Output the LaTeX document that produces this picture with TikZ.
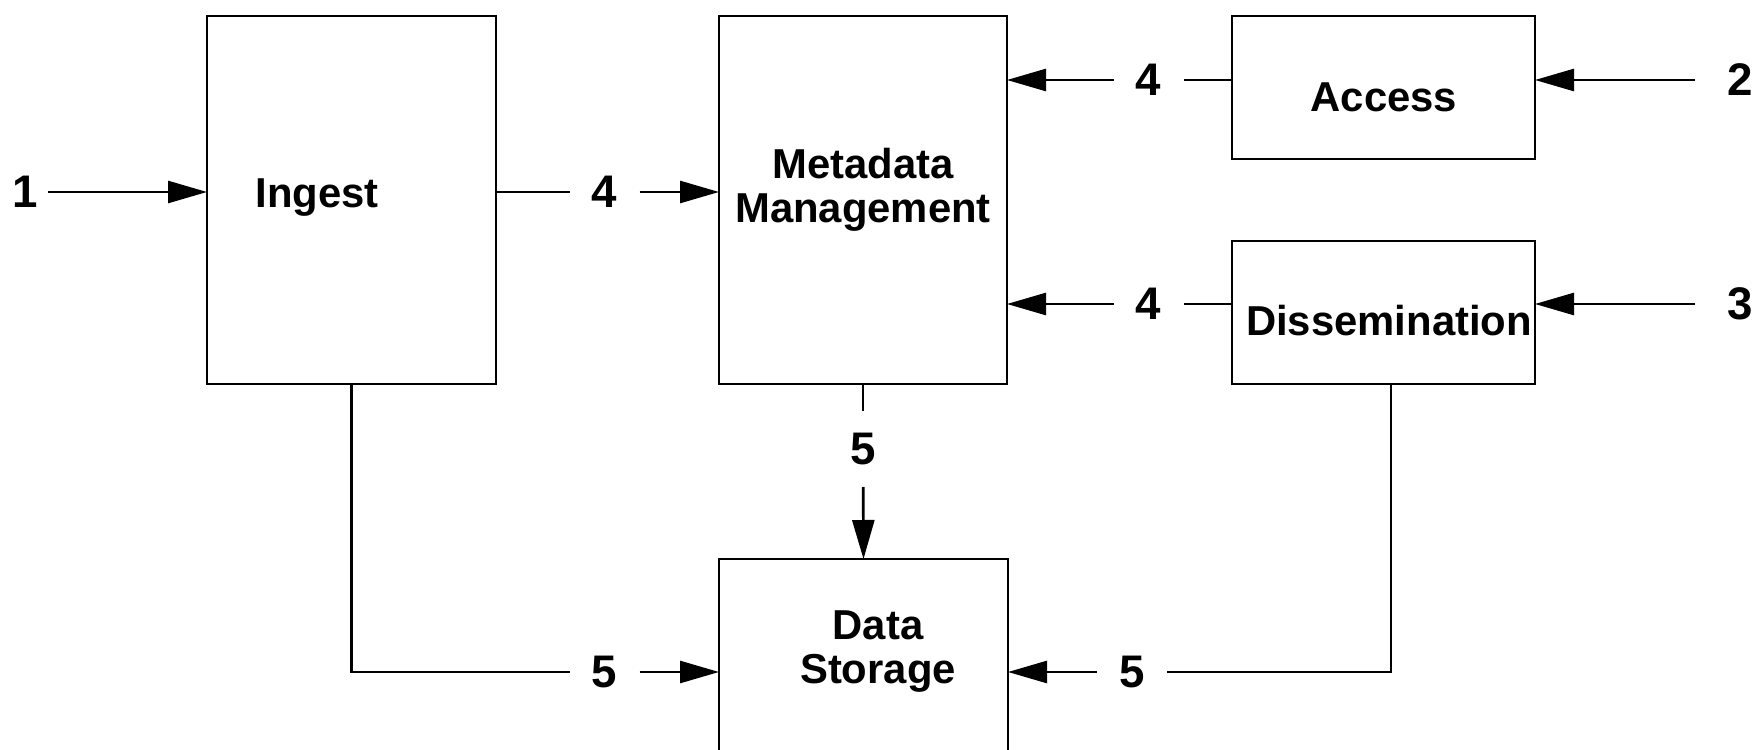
\documentclass[tikz,border=0pt]{standalone}
\usepackage{fontspec}
\setmainfont{Liberation Sans}
\usetikzlibrary{shapes,arrows.meta}

\newcommand\boxfont{\fontsize{11.9}{12.5}\selectfont\bfseries}
\newcommand\numfont{\fontsize{13}{15}\selectfont\bfseries}

\begin{document}
\begin{tikzpicture}[x=0.1mm,y=-0.1mm]

        % styles
        \tikzstyle{block} = [rectangle, draw=black, line width=0.75pt, inner sep=0pt, outer sep=0pt]
        \tikzstyle{label} = [font=\boxfont, align=center, inner sep=0pt, anchor=base]
        \tikzstyle{num} = [font=\numfont, inner sep=0pt, outer sep=0pt, minimum width=0.7cm, minimum height=0.7cm]
        \tikzstyle{line} = [line width=0.75pt]
        \tikzstyle{arrow} = [line width=0.75pt, -{Triangle[length=3.9mm, width=2.2mm]}]

        \path[use as bounding box, clip] (0,0) rectangle (1756,750);

        % boxes
        \node (ingest) [block, minimum width=2.89cm, minimum height=3.68cm] at (351.5,200) {};
        \node (meta) [block, minimum width=2.88cm, minimum height=3.68cm] at (863,200) {};
        \node (access) [block, minimum width=3.03cm, minimum height=1.43cm] at (1383.5,87.5) {};
        \node (dissem) [block, minimum width=3.03cm, minimum height=1.43cm] at (1383.5,312.5) {};
        \node (storage) [block, minimum width=2.89cm, minimum height=3.41cm] at (863.5,729.5) {};

        % box texts (base = last line)
        \node (ingesttext) [label] at (317,207) {Ingest};
        \node (metatext) [label] at (863,222) {Metadata\\Management};
        \node (accesstext) [label] at (1384,112) {Access};
        \node (dissemtext) [label] at (1389,336) {Dissemination};
        \node (storagetext) [label] at (878,683) {Data\\Storage};

        % numbers
        \node (in1) [font=\numfont, inner sep=0pt, inner xsep=1mm] at (25,192) {1};
        \node (in2) [font=\numfont, inner sep=0pt, inner xsep=3.2mm] at (1740,80) {2};
        \node (in3) [font=\numfont, inner sep=0pt, inner xsep=3.2mm] at (1740,304) {3};
        \node (ingestmeta) [num] at (604.5,192) {4};
        \node (accessmeta) [num] at (1148.5,80) {4};
        \node (dissemmeta) [num] at (1148.5,304) {4};
        \node (metastore) [num, minimum height=0.76cm] at (863,449) {5};
        \node (ingeststore) [num] at (604.5,672) {5};
        \node (dissemstore) [num] at (1132,672) {5};

        % connectors
        \draw [arrow] (in1) -- (in1 -| ingest.west);
        \draw [arrow] (in2) -- (in2 -| access.east);
        \draw [arrow] (in3) -- (in3 -| dissem.east);
        \draw [line] (ingestmeta -| ingest.east) -- (ingestmeta);
        \draw [arrow] (ingestmeta) -- (ingestmeta -| meta.west);
        \draw [line] (accessmeta -| access.west) -- (accessmeta);
        \draw [arrow] (accessmeta) -- (accessmeta -| meta.east);
        \draw [line] (dissemmeta -| dissem.west) -- (dissemmeta);
        \draw [arrow] (dissemmeta) -- (dissemmeta -| meta.east);
        \draw [line] (meta.south) -- (metastore);
        \draw [arrow] (metastore) -- (storage.north);
        \draw [line] (ingest.south) |- (ingeststore);
        \draw [arrow] (ingeststore) -- (ingeststore -| storage.west);
        \draw [line] ([xshift=0.75mm]dissem.south) |- (dissemstore);
        \draw [arrow] (dissemstore) -- (dissemstore -| storage.east);

    \end{tikzpicture}
\end{document}
